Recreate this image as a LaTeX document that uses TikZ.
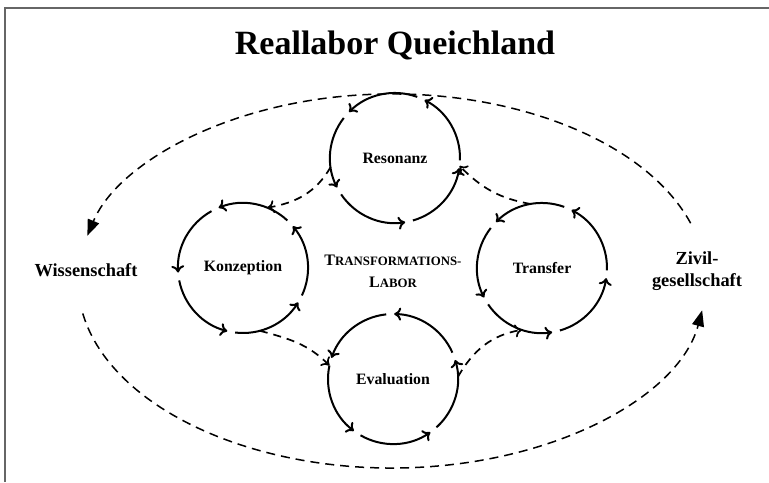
\documentclass[tikz,border=0pt]{standalone}
\usepackage{fontspec}
\setmainfont{Liberation Serif}
\usetikzlibrary{arrows.meta}

\begin{document}
\begin{tikzpicture}[x=0.5pt,y=0.5pt]
\tikzstyle{ring}=[circle,inner sep=0pt,outer sep=0pt,minimum size=65pt,font=\bfseries\fontsize{7.9}{9}\selectfont]
\tikzstyle{side}=[align=center,font=\bfseries\fontsize{9.2}{11}\selectfont]
\tikzstyle{turn}=[line width=1pt,-{To[length=3.5pt,width=6.5pt]}]
\tikzstyle{link}=[line width=0.85pt,dash pattern=on 4pt off 3pt,-{To[length=3.5pt,width=6.5pt]}]
\tikzstyle{outer}=[line width=0.75pt,dash pattern=on 4.5pt off 3pt,-{Triangle[length=8pt,width=6pt]}]

\useasboundingbox (0,0) rectangle (769,482);
% frame
\draw [line width=1pt,black!60] (5,0) -- (5,474) -- (769,474);

\node [font=\bfseries\fontsize{17}{20}\selectfont] (title) at (395,437) {Reallabor Queichland};

\node [align=center,font=\bfseries\fontsize{8}{11}\selectfont] (lab) at (393,211)
  {T{\fontsize{6.4}{11}\selectfont RANSFORMATIONS-}\\L{\fontsize{6.4}{11}\selectfont ABOR}};

\node [ring] (res) at (395,324) {Resonanz};
\node [ring] (kon) at (243,214) {Konzeption};
\node [ring] (tra) at (542,214) {Transfer};
\node [ring] (eva) at (393,103) {Evaluation};

\node [side] (wis) at (86,212) {Wissenschaft};
\node [side] (ziv) at (697,211) {Zivil-\\gesellschaft};

% five arcs round each ring
\foreach \nm/\off in {res/70,kon/47,tra/70,eva/24}{
  \foreach \k in {0,...,4}{
    \pgfmathtruncatemacro{\ang}{\off+72*\k}
    \draw [turn] (\nm.\ang) arc [start angle=\ang,delta angle=65,radius=65];
  }
}

\draw [link] (res.188) to [out=240,in=10] (kon.68);
\draw [link] (tra.100) to [out=170,in=-45] (res.353);
\draw [link] (kon.285) to [out=-15,in=135] (eva.168);
\draw [link] (eva.2) to [out=60,in=190] (tra.252);

% outer loop
\coordinate (mid) at (392,201);
\draw [outer] ([shift={(18:314 and 187)}]mid) arc [start angle=18,end angle=166,x radius=314,y radius=187];
\draw [outer] ([shift={(190:314 and 187)}]mid) arc [start angle=190,end angle=351,x radius=314,y radius=187];
\end{tikzpicture}
\end{document}
